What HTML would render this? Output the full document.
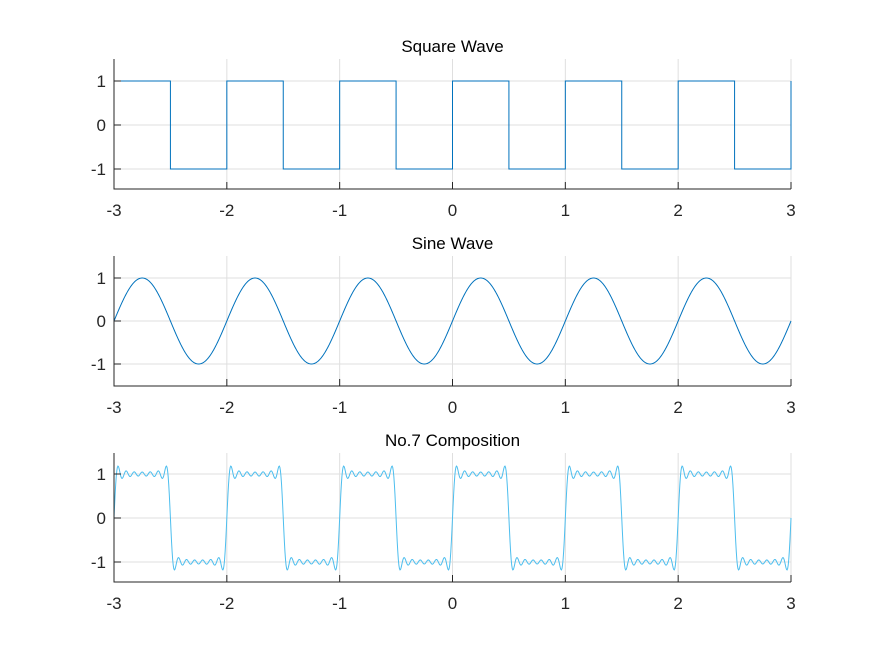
<!DOCTYPE html>
<html><head><meta charset="utf-8"><style>
html,body{margin:0;padding:0;background:#fff;}
svg{display:block;font-family:"Liberation Sans",Arial,sans-serif;}
</style></head><body>
<svg id="fig" width="875" height="656" viewBox="0 0 875 656"></svg>
<script>
// ---- data ----
const xTicks = [-3, -2, -1, 0, 1, 2, 3];
const yTicks = [-1, 0, 1];
const titles = ["Square Wave", "Sine Wave", "No.7 Composition"];
const squareEdgesX = [-3, -2.5, -2, -1.5, -1, -0.5, 0, 0.5, 1, 1.5, 2, 2.5, 3];
const squareLevels = [1, -1, 1, -1, 1, -1, 1, -1, 1, -1, 1, -1, 1];
const sineFreq = [1];
const sineAmp = [1];
const compHarmonics = [1, 3, 5, 7, 9, 11, 13];
const compAmps = [1.2732, 0.4244, 0.2546, 0.1819, 0.1415, 0.1157, 0.0979];
const xDomain = [-3, 3];

const NS = "http://www.w3.org/2000/svg";
const svg = document.getElementById("fig");
function mk(tag, attrs, parent) {
  const e = document.createElementNS(NS, tag);
  for (const k in attrs) e.setAttribute(k, attrs[k]);
  (parent || svg).appendChild(e);
  return e;
}
const L = 114, R = 791;
const panels = [
  {top: 59, bottom: 189, zero: 125, unit: 44, color: "#0072BD"},
  {top: 256, bottom: 386, zero: 321, unit: 43, color: "#0072BD"},
  {top: 453, bottom: 582, zero: 518, unit: 44, color: "#4DBEEE"}
];
function xs(v) { return L + (v - xDomain[0]) / (xDomain[1] - xDomain[0]) * (R - L); }

panels.forEach((p, i) => {
  const ys = v => p.zero - v * p.unit;
  const g = mk("g", {});
  
  
  xTicks.forEach(t => {
    const l = mk("line", {x1: xs(t), x2: xs(t), y1: p.top, y2: p.bottom, stroke: "#dfdfdf", "stroke-width": 1}, g);
    
    
  });
  yTicks.forEach(t => {
    const l = mk("line", {x1: L, x2: R, y1: ys(t), y2: ys(t), stroke: "#dfdfdf", "stroke-width": 1}, g);
    
    
  });
  let d = "";
  if (i === 0) {
    for (let k = 0; k < squareEdgesX.length - 1; k++) {
      const x0 = xs(squareEdgesX[k]), x1 = xs(squareEdgesX[k + 1]), y = ys(squareLevels[k]);
      d += (k === 0 ? "M" : "L") + x0.toFixed(2) + "," + y.toFixed(2) + "L" + x1.toFixed(2) + "," + y.toFixed(2);
    }
    d += "L" + xs(squareEdgesX[squareEdgesX.length - 1]).toFixed(2) + "," + ys(squareLevels[squareLevels.length - 1]).toFixed(2);
  } else {
    const N = 1200;
    for (let n = 0; n <= N; n++) {
      const x = xDomain[0] + (xDomain[1] - xDomain[0]) * n / N;
      let v = 0;
      if (i === 1) sineFreq.forEach((f, j) => v += sineAmp[j] * Math.sin(2 * Math.PI * f * x));
      else compHarmonics.forEach((h, j) => v += compAmps[j] * Math.sin(2 * Math.PI * h * x));
      d += (n ? "L" : "M") + xs(x).toFixed(2) + "," + ys(v).toFixed(2);
    }
  }
  const path = mk("path", {d: d, fill: "none", stroke: p.color, "stroke-width": 1}, g);
  
  
  mk("path", {d: `M${L},${p.top}L${L},${p.bottom}L${R},${p.bottom}`, fill: "none", stroke: "#262626", "stroke-width": 1}, g);
  xTicks.forEach(t => {
    mk("line", {x1: xs(t), x2: xs(t), y1: p.bottom, y2: p.bottom - 7, stroke: "#262626"}, g);
    const tx = mk("text", {x: xs(t), y: p.bottom + 27, "text-anchor": "middle", "font-size": 17, fill: "#262626"}, g);
    tx.textContent = t;
    
    
  });
  yTicks.forEach(t => {
    mk("line", {x1: L, x2: L + 7, y1: ys(t), y2: ys(t), stroke: "#262626"}, g);
    const tx = mk("text", {x: L - 8, y: ys(t) + 6, "text-anchor": "end", "font-size": 17, fill: "#262626"}, g);
    tx.textContent = t;
    
    
  });
  const tt = mk("text", {x: (L + R) / 2, y: p.top - 7, "text-anchor": "middle", "font-size": 17, fill: "#000"}, g);
  tt.textContent = titles[i];
  
  
});
</script>
</body></html>
